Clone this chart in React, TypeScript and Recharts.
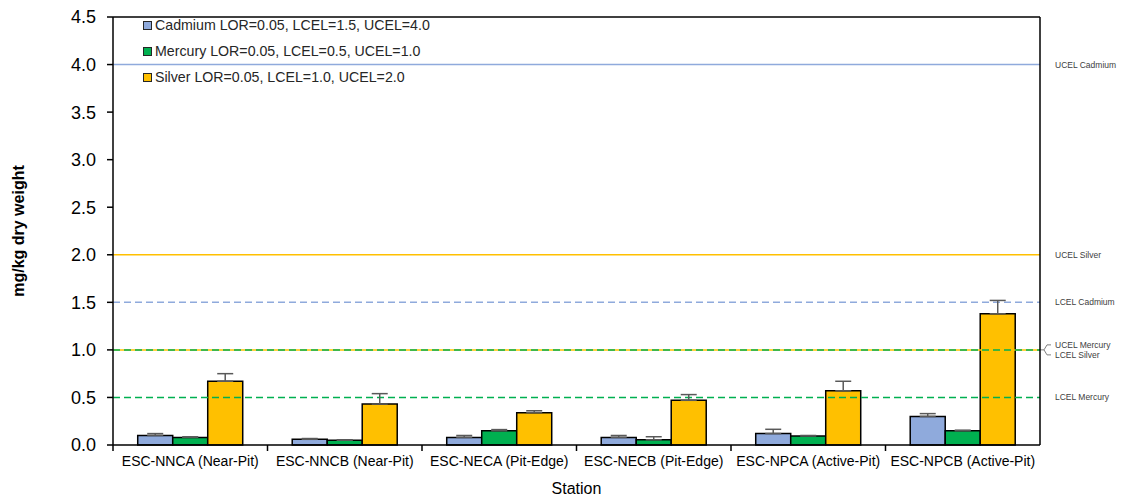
import {
  ComposedChart,
  Bar,
  XAxis,
  YAxis,
  ErrorBar,
  ReferenceLine,
} from "recharts";

const stations = [
  "ESC-NNCA (Near-Pit)",
  "ESC-NNCB (Near-Pit)",
  "ESC-NECA (Pit-Edge)",
  "ESC-NECB (Pit-Edge)",
  "ESC-NPCA (Active-Pit)",
  "ESC-NPCB (Active-Pit)",
];

// mean values and top of the error bar, mg/kg dry weight
const cadmium = [0.1, 0.06, 0.08, 0.08, 0.12, 0.3];
const cadmiumHigh = [0.12, 0.068, 0.1, 0.1, 0.165, 0.33];
const mercury = [0.08, 0.05, 0.15, 0.055, 0.095, 0.15];
const mercuryHigh = [0.086, 0.055, 0.162, 0.087, 0.1, 0.156];
const silver = [0.67, 0.43, 0.34, 0.47, 0.57, 1.38];
const silverHigh = [0.75, 0.54, 0.36, 0.53, 0.67, 1.52];

const yTicks = [0, 0.5, 1, 1.5, 2, 2.5, 3, 3.5, 4, 4.5];

const legendItems = [
  { name: "Cadmium LOR=0.05, LCEL=1.5, UCEL=4.0", color: "#8FAADC" },
  { name: "Mercury LOR=0.05, LCEL=0.5, UCEL=1.0", color: "#00B050" },
  { name: "Silver LOR=0.05, LCEL=1.0, UCEL=2.0", color: "#FFC000" },
];

const data = stations.map((station, i) => ({
  station,
  cadmium: cadmium[i],
  cadmiumErr: [0, cadmiumHigh[i] - cadmium[i]],
  mercury: mercury[i],
  mercuryErr: [0, mercuryHigh[i] - mercury[i]],
  silver: silver[i],
  silverErr: [0, silverHigh[i] - silver[i]],
}));

const W = 1126;
const H = 498;
const LEFT = 113;
const RIGHT = 86;
const TOP = 17;
const BOTTOM = 53;
const BAND = (W - LEFT - RIGHT) / stations.length;
const FONT = "'Liberation Sans', Arial, sans-serif";

const XTick = (props: any) => {
  const { x, payload } = props;
  const base = H - BOTTOM;
  return (
    <g>
      <line x1={x - BAND / 2} x2={x - BAND / 2} y1={base} y2={base + 6} stroke="#000" strokeWidth={1.5} />
      <text x={x} y={base + 21} textAnchor="middle" fontSize={14} fill="#000" fontFamily={FONT}>
        {payload.value}
      </text>
    </g>
  );
};

const refLabel = (text: string) => (props: any) => {
  const vb = props.viewBox;
  return (
    <text x={vb.x + vb.width + 15} y={vb.y + 3} fontSize={8.5} fill="#404040" fontFamily={FONT}>
      {text}
    </text>
  );
};

const pairLabel = (props: any) => {
  const vb = props.viewBox;
  const x0 = vb.x + vb.width;
  const y = vb.y;
  return (
    <g>
      <path
        d={`M${x0} ${y} L${x0 + 4} ${y} M${x0 + 11} ${y - 5} L${x0 + 7} ${y - 5} L${x0 + 4} ${y} L${x0 + 7} ${y + 5} L${x0 + 11} ${y + 5}`}
        stroke="#808080"
        fill="none"
        strokeWidth={1}
      />
      <text x={x0 + 15} y={y - 2} fontSize={8.5} fill="#404040" fontFamily={FONT}>
        UCEL Mercury
      </text>
      <text x={x0 + 15} y={y + 8} fontSize={8.5} fill="#404040" fontFamily={FONT}>
        LCEL Silver
      </text>
    </g>
  );
};

export default function App() {
  return (
    <div style={{ position: "absolute", left: 0, top: 0, width: W, height: H, background: "#fff" }}>
      <ComposedChart
        width={W}
        height={H}
        data={data}
        margin={{ top: TOP, right: 0, bottom: 0, left: 0 }}
        barCategoryGap="16%"
        barGap={0}
      >
        <XAxis
          dataKey="station"
          height={BOTTOM}
          interval={0}
          tickLine={false}
          axisLine={{ stroke: "#000", strokeWidth: 1.5 }}
          tick={<XTick />}
          label={{ value: "Station", position: "insideBottom", offset: 4, fontSize: 16, fill: "#000", fontFamily: FONT }}
        />
        <YAxis
          yAxisId="left"
          width={LEFT}
          domain={[0, 4.5]}
          ticks={yTicks}
          interval={0}
          tickFormatter={(v: number) => v.toFixed(1)}
          tickSize={6}
          tickMargin={11}
          tick={{ fontSize: 18, fill: "#000", fontFamily: FONT }}
          tickLine={{ stroke: "#000", strokeWidth: 1.5 }}
          axisLine={{ stroke: "#000", strokeWidth: 1.5 }}
          label={{
            value: "mg/kg dry weight",
            angle: -90,
            position: "insideLeft",
            offset: 18,
            style: { textAnchor: "middle", fontSize: 16, fontWeight: "bold", fill: "#000", fontFamily: FONT },
          }}
        />
        <YAxis
          yAxisId="right"
          orientation="right"
          width={RIGHT}
          domain={[0, 4.5]}
          tick={false}
          tickLine={false}
          axisLine={{ stroke: "#000", strokeWidth: 1.5 }}
        />
        <ReferenceLine yAxisId="left" y={4.5} stroke="#000" strokeWidth={1.5} />
        <ReferenceLine yAxisId="left" y={4} stroke="#8FAADC" strokeWidth={1.5} label={refLabel("UCEL Cadmium")} />
        <ReferenceLine yAxisId="left" y={2} stroke="#FFC000" strokeWidth={1.5} label={refLabel("UCEL Silver")} />
        <ReferenceLine yAxisId="left" y={1.5} stroke="#8FAADC" strokeWidth={1.5} strokeDasharray="7 4" label={refLabel("LCEL Cadmium")} />
        <ReferenceLine yAxisId="left" y={1} stroke="#FFC000" strokeWidth={1.5} label={pairLabel} />
        <ReferenceLine yAxisId="left" y={1} stroke="#00B050" strokeWidth={1.5} strokeDasharray="7 4" />
        <ReferenceLine yAxisId="left" y={0.5} stroke="#00B050" strokeWidth={1.5} strokeDasharray="7 4" label={refLabel("LCEL Mercury")} />
        <Bar yAxisId="left" dataKey="cadmium" fill="#8FAADC" stroke="#000" strokeWidth={1.5} isAnimationActive={false}>
          <ErrorBar dataKey="cadmiumErr" width={8} stroke="#595959" strokeWidth={1.5} direction="y" />
        </Bar>
        <Bar yAxisId="left" dataKey="mercury" fill="#00B050" stroke="#000" strokeWidth={1.5} isAnimationActive={false}>
          <ErrorBar dataKey="mercuryErr" width={8} stroke="#595959" strokeWidth={1.5} direction="y" />
        </Bar>
        <Bar yAxisId="left" dataKey="silver" fill="#FFC000" stroke="#000" strokeWidth={1.5} isAnimationActive={false}>
          <ErrorBar dataKey="silverErr" width={8} stroke="#595959" strokeWidth={1.5} direction="y" />
        </Bar>
      </ComposedChart>
      <div style={{ position: "absolute", left: 143, top: 12, fontFamily: FONT, fontSize: 14.2, color: "#262626" }}>
        {legendItems.map((item) => (
          <div key={item.name} style={{ display: "flex", alignItems: "center", height: 26 }}>
            <span
              style={{
                display: "inline-block",
                width: 7,
                height: 7,
                background: item.color,
                border: "1px solid #262626",
                marginRight: 3,
              }}
            />
            <span>{item.name}</span>
          </div>
        ))}
      </div>
    </div>
  );
}
